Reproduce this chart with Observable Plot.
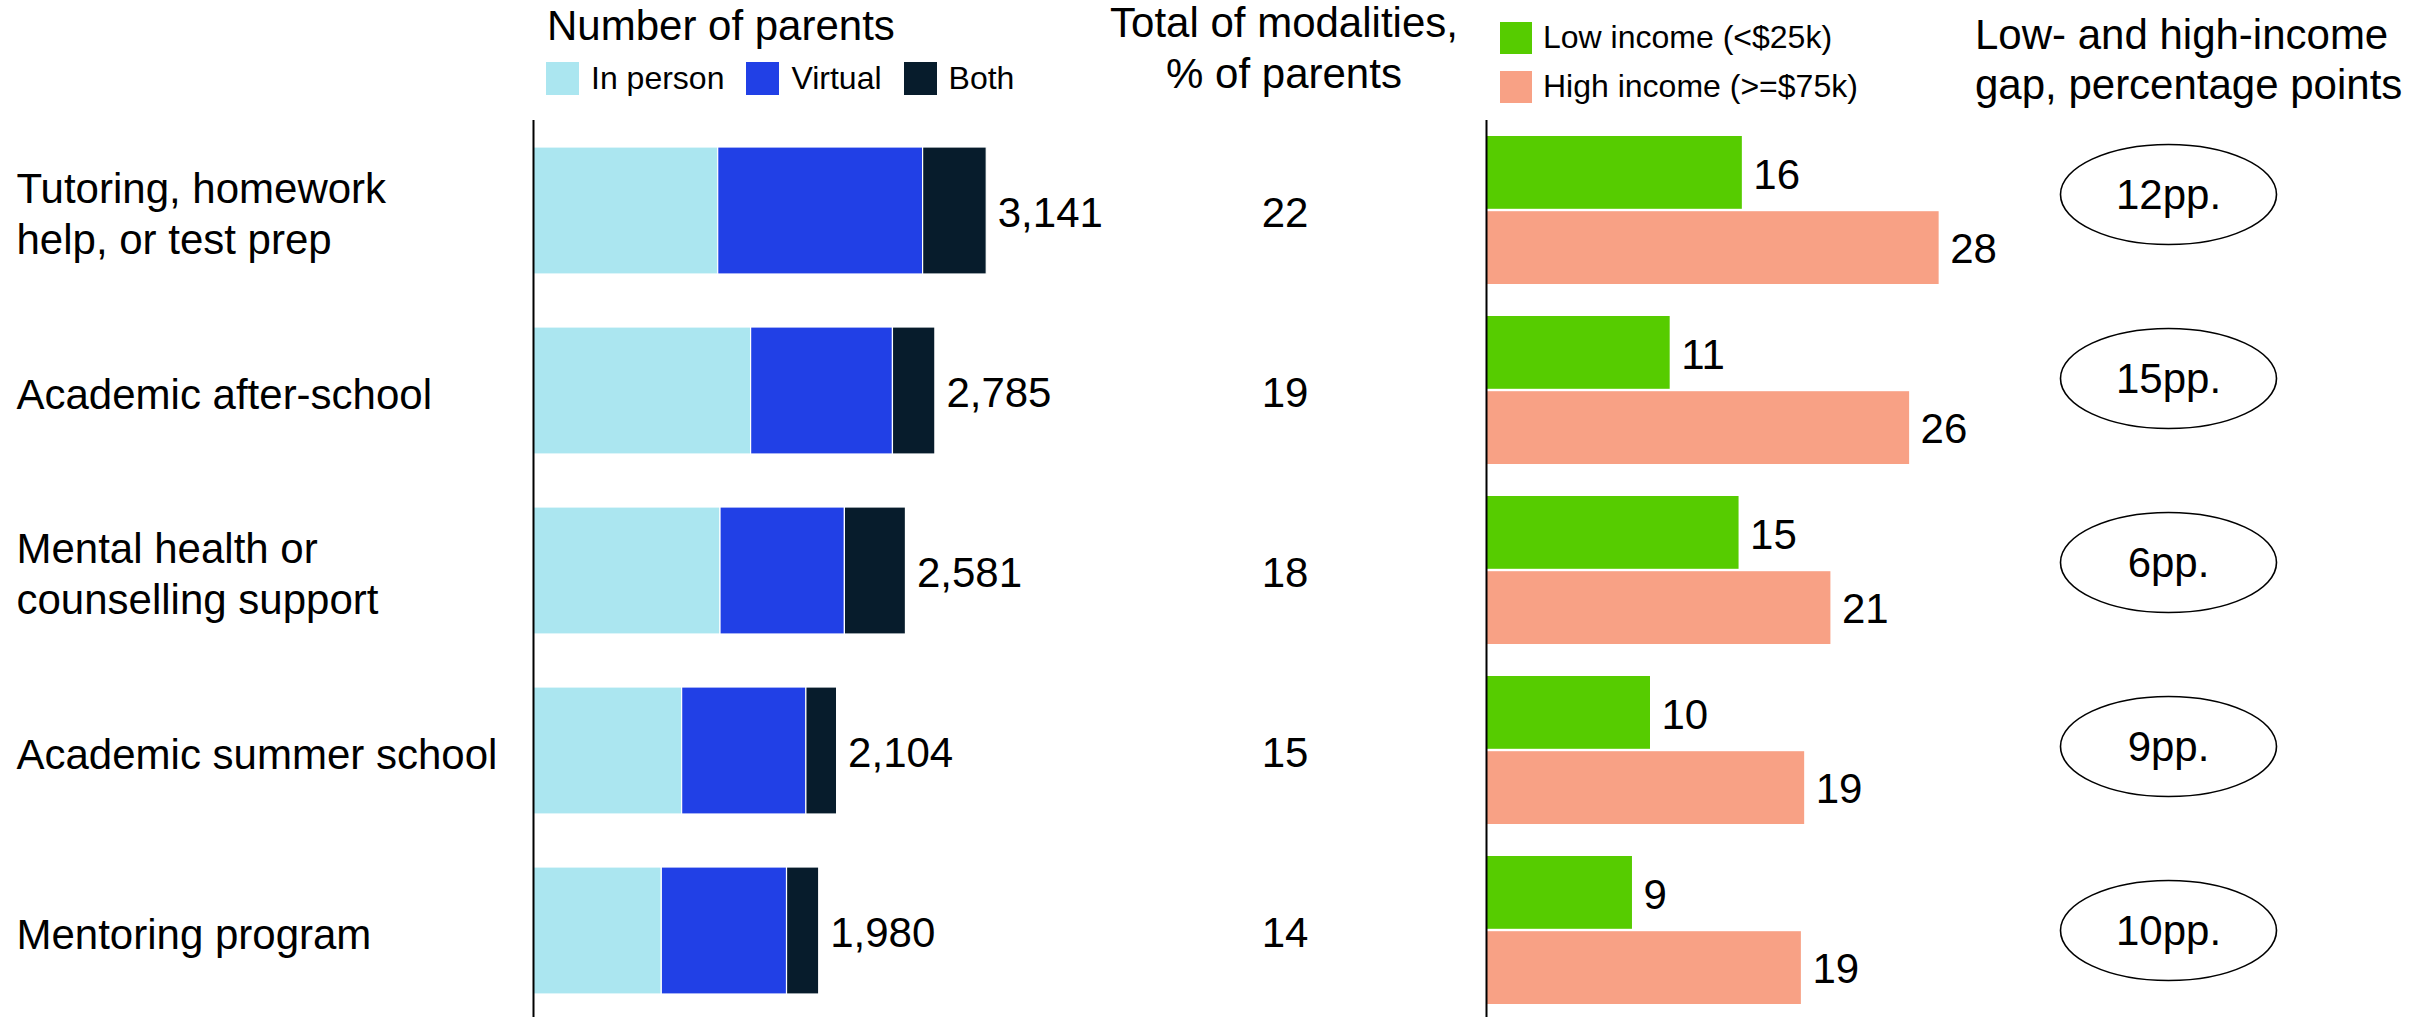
<!DOCTYPE html>
<html>
<head>
<meta charset="utf-8">
<script src="https://cdn.jsdelivr.net/npm/d3@7"></script>
<script src="https://cdn.jsdelivr.net/npm/@observablehq/plot@0.6"></script>
<style>
  body { margin: 0; background: #fff; font-family: "Liberation Sans", Arial, sans-serif; color: #000; }
  #chart { position: relative; width: 2412px; height: 1017px; overflow: hidden; }
  #chart svg { position: absolute; left: 0; top: 0; }
  .hdr { position: absolute; font-size: 42px; white-space: nowrap; }
  .legend { position: absolute; display: flex; align-items: center; font-size: 32px; white-space: nowrap; }
  .sw { display: inline-block; width: 33px; height: 33px; margin-right: 12px; }
</style>
</head>
<body>
<div id="chart">
  <div class="hdr" style="left:547px; top:1px; line-height:50px;">Number of parents</div>
  <div class="legend" id="modLegend" style="left:546px; top:62px; height:33px;"></div>
  <div class="hdr" style="left:1084px; width:400px; text-align:center; top:-3px; line-height:51px;">Total of modalities,<br>% of parents</div>
  <div id="incLegend" style="position:absolute; left:1500px; top:21px;"></div>
  <div class="hdr" style="left:1975px; width:400px; text-align:center; top:10px; line-height:50px;">Low- and high-income<br>gap, percentage points</div>
</div>
<script>
// ---- data ----
const categories = [
  "Tutoring, homework help, or test prep",
  "Academic after-school",
  "Mental health or counselling support",
  "Academic summer school",
  "Mentoring program"
];
const categoryLabels = [
  "Tutoring, homework\nhelp, or test prep",
  "Academic after-school",
  "Mental health or\ncounselling support",
  "Academic summer school",
  "Mentoring program"
];
const modalities = ["In person", "Virtual", "Both"];
const modalityColors = ["#ABE6F0", "#2140E6", "#071C2C"];
const inPerson = [1280, 1508, 1296, 1030, 889];
const virtual  = [1420, 983, 862, 861, 868];
const both     = [441, 294, 423, 213, 223];
const totalParents = [3141, 2785, 2581, 2104, 1980];
const totalPct = [22, 19, 18, 15, 14];
const incomeGroups = ["Low income (<$25k)", "High income (>=$75k)"];
const incomeColors = ["#56CC00", "#F8A185"];
const lowIncome  = [15.6, 11.2, 15.4, 10.0, 8.9];
const highIncome = [27.6, 25.8, 21.0, 19.4, 19.2];
const gapPP = [12, 15, 6, 9, 10];

// ---- derived tables ----
const stackData = categories.flatMap((c, i) =>
  [inPerson[i], virtual[i], both[i]].map((v, j) => ({category: c, modality: modalities[j], value: v})));
const totalsData = categories.map((c, i) => ({category: c, total: totalParents[i], pct: totalPct[i], label: categoryLabels[i]}));
const lowData = categories.map((c, i) => ({category: c, v: lowIncome[i]}));
const highData = categories.map((c, i) => ({category: c, v: highIncome[i]}));
const gapData = categories.map((c, i) => ({category: c, gap: gapPP[i]}));

const W = 2412, H = 1020;
const FONT = "Liberation Sans, Arial, sans-serif";
const baseStyle = {background: "transparent", fontFamily: FONT, overflow: "visible"};
const yRows = {domain: categories, paddingInner: 0.295, paddingOuter: 0.1475, axis: null};
const chart = document.getElementById("chart");
const fmtInt = d3.format(",.0f");

// Category labels
chart.appendChild(Plot.plot({
  width: W, height: H, marginTop: 120, marginBottom: 0, marginLeft: 16, marginRight: 0,
  style: baseStyle, y: yRows, x: {axis: null},
  marks: [
    Plot.text(totalsData, {y: "category", text: "label", frameAnchor: "left", textAnchor: "start",
      fontSize: 42, lineHeight: 1.2, dy: 2, fill: "#000"})
  ]
}));

// Stacked bars: number of parents
chart.appendChild(Plot.plot({
  width: W, height: H, marginTop: 120, marginBottom: 0, marginLeft: 533, marginRight: W - 533 - 4000 * 0.1443,
  style: baseStyle, y: yRows,
  x: {domain: [0, 4000], axis: null},
  color: {domain: modalities, range: modalityColors},
  marks: [
    Plot.barX(stackData, {x: "value", y: "category", fill: "modality", stroke: "white", strokeWidth: 1.2}),
    Plot.text(totalsData, {x: "total", y: "category", text: d => fmtInt(d.total), textAnchor: "start",
      dx: 11, dy: 3, fontSize: 42, fill: "#000"}),
    Plot.ruleX([0], {stroke: "#000", strokeWidth: 2})
  ]
}));

// Totals % column
chart.appendChild(Plot.plot({
  width: W, height: H, marginTop: 120, marginBottom: 0, marginLeft: 1110, marginRight: W - 1459,
  style: baseStyle, y: yRows, x: {axis: null},
  marks: [
    Plot.text(totalsData, {y: "category", text: d => String(d.pct), frameAnchor: "middle",
      fontSize: 42, dy: 3, fill: "#000"})
  ]
}));

// Income bars
const inc = {domain: categories, paddingInner: 0.178, paddingOuter: 0.089, axis: null};
const half = 37.4;
chart.appendChild(Plot.plot({
  width: W, height: H, marginTop: 120, marginBottom: 0, marginLeft: 1486, marginRight: W - 1486 - 30 * 16.4,
  style: baseStyle, y: inc,
  x: {domain: [0, 30], axis: null},
  marks: [
    Plot.barX(lowData, {x: "v", y: "category", fill: incomeColors[0], insetBottom: 75.2}),
    Plot.barX(highData, {x: "v", y: "category", fill: incomeColors[1], insetTop: 75.2}),
    Plot.text(lowData, {x: "v", y: "category", text: d => fmtInt(d.v), textAnchor: "start",
      dx: 11, dy: -half + 2, fontSize: 42, fill: "#000"}),
    Plot.text(highData, {x: "v", y: "category", text: d => fmtInt(d.v), textAnchor: "start",
      dx: 11, dy: half + 2, fontSize: 42, fill: "#000"}),
    Plot.ruleX([0], {stroke: "#000", strokeWidth: 2})
  ]
}));

// Gap ellipses
const ellipseSymbol = {
  draw(ctx) {
    const rx = 108, ry = 50, k = 0.5523;
    ctx.moveTo(rx, 0);
    ctx.bezierCurveTo(rx, k * ry, k * rx, ry, 0, ry);
    ctx.bezierCurveTo(-k * rx, ry, -rx, k * ry, -rx, 0);
    ctx.bezierCurveTo(-rx, -k * ry, -k * rx, -ry, 0, -ry);
    ctx.bezierCurveTo(k * rx, -ry, rx, -k * ry, rx, 0);
    ctx.closePath();
  }
};
chart.appendChild(Plot.plot({
  width: W, height: H, marginTop: 194, marginBottom: H - 930, marginLeft: 2060, marginRight: W - 2276,
  style: baseStyle,
  y: {type: "point", domain: categories, padding: 0, axis: null},
  x: {axis: null},
  marks: [
    Plot.dot(gapData, {y: "category", frameAnchor: "middle", symbol: ellipseSymbol, r: 10,
      fill: "white", stroke: "#000", strokeWidth: 1.6}),
    Plot.text(gapData, {y: "category", frameAnchor: "middle", text: d => d.gap + "pp.",
      fontSize: 42, dy: 1, fill: "#000"})
  ]
}));

// Legends (HTML)
const modLegend = document.getElementById("modLegend");
modalities.forEach((m, i) => {
  const item = document.createElement("span");
  item.style.cssText = "display:flex;align-items:center;margin-right:22px;";
  item.innerHTML = `<span class="sw" style="background:${modalityColors[i]}"></span><span>${m}</span>`;
  modLegend.appendChild(item);
});
const incLegend = document.getElementById("incLegend");
incomeGroups.forEach((g, i) => {
  const row = document.createElement("div");
  row.style.cssText = `display:flex;align-items:center;font-size:32px;white-space:nowrap;height:33px;margin-bottom:${i === 0 ? 16 : 0}px;`;
  const sw = document.createElement("span");
  sw.style.cssText = `display:inline-block;width:32px;height:32px;margin-right:11px;background:${incomeColors[i]}`;
  const t = document.createElement("span");
  t.textContent = g;
  row.appendChild(sw); row.appendChild(t);
  incLegend.appendChild(row);
});
</script>
</body>
</html>
